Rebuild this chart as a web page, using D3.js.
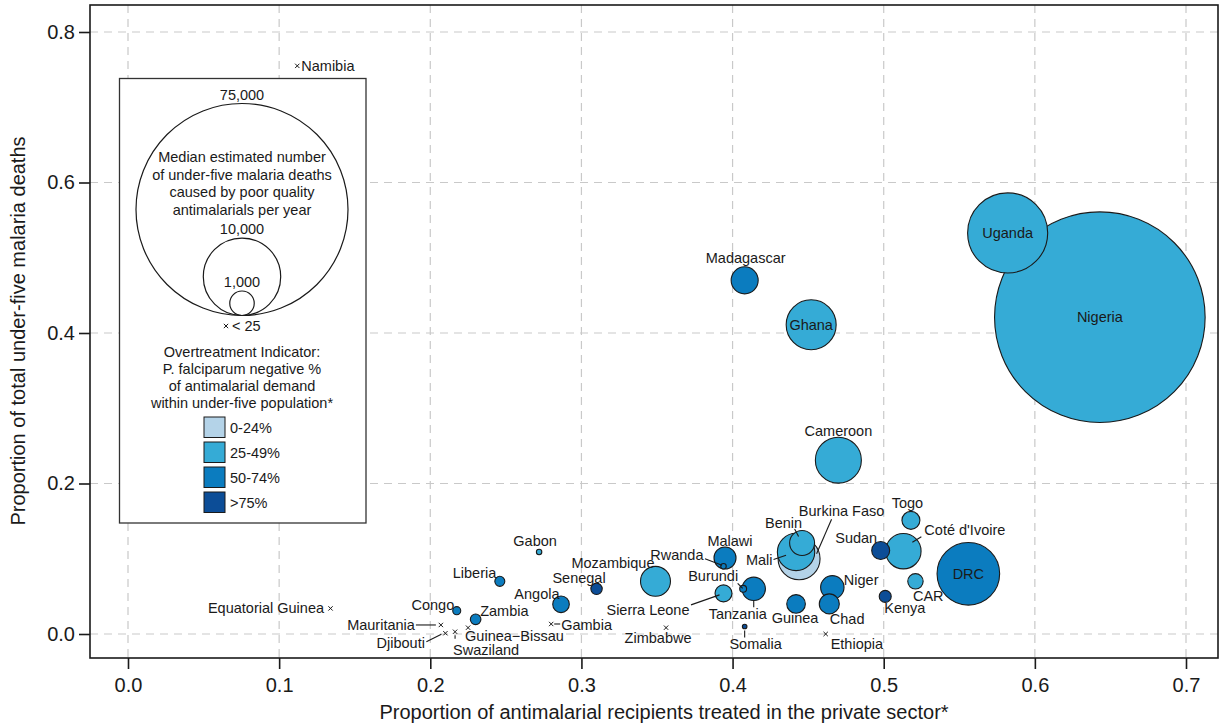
<!DOCTYPE html>
<html>
<head>
<meta charset="utf-8">
<script src="https://cdn.jsdelivr.net/npm/d3@7"></script>
<style>
  body { margin: 0; background: #ffffff; }
  svg text { font-family: "Liberation Sans", Arial, Helvetica, sans-serif; fill: #1a1a1a; }
</style>
</head>
<body>
<svg id="chart" width="1220" height="725"></svg>
<script>
// Countries with a bubble (median deaths of at least 25)
const countries = ["Nigeria", "Uganda", "Ghana", "Madagascar", "Cameroon", "DRC", "Coté d'Ivoire", "Togo",
  "Sudan", "CAR", "Kenya", "Burkina Faso", "Mali", "Benin", "Niger", "Chad", "Guinea", "Tanzania",
  "Burundi", "Malawi", "Rwanda", "Sierra Leone", "Somalia", "Mozambique", "Senegal", "Angola",
  "Liberia", "Gabon", "Zambia", "Congo"];
// Proportion of antimalarial recipients treated in the private sector
const privateShare = [0.643, 0.582, 0.452, 0.408, 0.470, 0.556, 0.513, 0.518,
  0.498, 0.521, 0.501, 0.444, 0.442, 0.446, 0.466, 0.464, 0.442, 0.414,
  0.407, 0.395, 0.394, 0.394, 0.408, 0.349, 0.310, 0.2865,
  0.246, 0.272, 0.230, 0.2175];
// Proportion of total under-five malaria deaths
const deathShare = [0.421, 0.533, 0.411, 0.470, 0.231, 0.080, 0.110, 0.151,
  0.111, 0.070, 0.050, 0.100, 0.109, 0.121, 0.062, 0.040, 0.040, 0.060,
  0.060, 0.101, 0.090, 0.054, 0.010, 0.070, 0.060, 0.0395,
  0.070, 0.109, 0.0195, 0.031];
// Median estimated under-five deaths from poor quality antimalarials per year
const medianDeaths = [74000, 10700, 4170, 1220, 3530, 6540, 2090, 540,
  540, 395, 240, 2940, 2330, 1040, 915, 670, 580, 915,
  80, 810, 50, 480, 35, 1500, 217, 460,
  167, 49, 188, 107];
// Overtreatment class: 0 = 0-24%, 1 = 25-49%, 2 = 50-74%, 3 = >75%
const overtreatClass = [1, 1, 1, 2, 1, 2, 1, 1,
  3, 1, 3, 0, 1, 1, 2, 2, 2, 2,
  2, 2, 2, 1, 3, 1, 3, 2,
  2, 1, 2, 2];

// Countries with fewer than 25 deaths, drawn as crosses
const minorCountries = ["Namibia", "Equatorial Guinea", "Mauritania", "Djibouti", "Swaziland",
  "Guinea\u2212Bissau", "Gambia", "Zimbabwe", "Ethiopia"];
const minorPrivateShare = [0.112, 0.134, 0.207, 0.210, 0.2164, 0.225, 0.280, 0.356, 0.4616];
const minorDeathShare = [0.755, 0.034, 0.012, 0.001, 0.003, 0.0084, 0.0133, 0.0084, 0.000];

const xTicks = [0, 0.1, 0.2, 0.3, 0.4, 0.5, 0.6, 0.7];
const yTicks = [0, 0.2, 0.4, 0.6, 0.8];
const classLabels = ["0-24%", "25-49%", "50-74%", ">75%"];
const classColors = ["#b4d3e8", "#35abd6", "#0b7cbf", "#0c4d97"];
const sizeLegendValues = [75000, 10000, 1000];
const sizeLegendText = ["Median estimated number", "of under-five malaria deaths",
  "caused by poor quality", "antimalarials per year"];
const colorLegendText = ["Overtreatment Indicator:", "P. falciparum negative %",
  "of antimalarial demand", "within under-five population*"];

// Label placement (pixel offsets from the mark centre)
const labelLayout = {
  "Nigeria": { dx: 0, dy: 0, anchor: "middle" },
  "Uganda": { dx: 0, dy: 0, anchor: "middle" },
  "Ghana": { dx: 0, dy: 0, anchor: "middle" },
  "DRC": { dx: 0, dy: 0, anchor: "middle" },
  "Madagascar": { dx: 1, dy: -22, anchor: "middle" },
  "Cameroon": { dx: 0, dy: -29, anchor: "middle" },
  "Togo": { dx: -3.5, dy: -17, anchor: "middle" },
  "Coté d'Ivoire": { dx: 21, dy: -21, anchor: "start", line: [9, -9, 18, -14.5] },
  "Sudan": { dx: -3.5, dy: -12.5, anchor: "end" },
  "CAR": { dx: -2.5, dy: 15, anchor: "start" },
  "Kenya": { dx: -1, dy: 12, anchor: "start" },
  "Burkina Faso": { dx: 42.5, dy: -47.5, anchor: "middle", line: [32.5, -39.5, 17.5, -5] },
  "Mali": { dx: -23.5, dy: 7.5, anchor: "end", line: [-22.5, 7.5, -10, 3.2] },
  "Benin": { dx: -18.5, dy: -20, anchor: "middle", line: [-7.5, -14, -3.5, -6.5] },
  "Niger": { dx: 11.5, dy: -7.5, anchor: "start" },
  "Chad": { dx: 0.5, dy: 15.5, anchor: "start" },
  "Guinea": { dx: -1, dy: 14, anchor: "middle" },
  "Tanzania": { dx: -16, dy: 25.5, anchor: "middle", line: [0, 12, 0, 18.5] },
  "Burundi": { dx: -5, dy: -12.5, anchor: "end", line: [-5.5, -5.5, -0.5, -0.5] },
  "Malawi": { dx: 5, dy: -17.5, anchor: "middle" },
  "Rwanda": { dx: -20, dy: -11, anchor: "end", line: [-18.5, -7.5, -1.5, -1] },
  "Sierra Leone": { dx: -34, dy: 16.5, anchor: "end", line: [-32.5, 11.5, -4, 1.5] },
  "Somalia": { dx: 11, dy: 17.5, anchor: "middle", line: [0, 4, 0, 11] },
  "Mozambique": { dx: -42.5, dy: -18.5, anchor: "middle" },
  "Senegal": { dx: -17.5, dy: -10.5, anchor: "middle" },
  "Angola": { dx: -1.5, dy: -10.5, anchor: "end" },
  "Liberia": { dx: -3.5, dy: -8.5, anchor: "end" },
  "Gabon": { dx: -4, dy: -11, anchor: "middle" },
  "Zambia": { dx: 4.5, dy: -8.5, anchor: "start" },
  "Congo": { dx: -2.5, dy: -5.5, anchor: "end" },
  "Namibia": { dx: 4, dy: 0.5, anchor: "start" },
  "Equatorial Guinea": { dx: -6.5, dy: 0, anchor: "end" },
  "Mauritania": { dx: -26, dy: -0.5, anchor: "end", line: [-25, 0, -5, 0] },
  "Djibouti": { dx: -20.5, dy: 10, anchor: "end", line: [-19, 8.5, -4, 1] },
  "Swaziland": { dx: -2, dy: 18, anchor: "start", line: [0, 3.5, 0, 7] },
  "Guinea\u2212Bissau": { dx: -3, dy: 8, anchor: "start" },
  "Gambia": { dx: 10, dy: 1, anchor: "start", line: [3, 0, 9, 0] },
  "Zimbabwe": { dx: -8, dy: 10.5, anchor: "middle" },
  "Ethiopia": { dx: 5, dy: 10, anchor: "start" }
};

const svg = d3.select("#chart");
const frame = { left: 90, top: 5, right: 1218, bottom: 658 };

const x = d3.scaleLinear().domain([0, 0.7]).range([128, 1186]);
const y = d3.scaleLinear().domain([0, 0.8]).range([634, 32]);
const r = d3.scaleSqrt().domain([0, 75000]).range([0, 106]);

// Dashed grid
const grid = svg.append("g").attr("stroke", "#c9c9c9").attr("stroke-width", 1.2)
  .attr("stroke-dasharray", "8,6");
grid.selectAll("line.gx").data(xTicks).join("line")
  .attr("x1", d => x(d)).attr("x2", d => x(d))
  .attr("y1", frame.top).attr("y2", frame.bottom);
grid.selectAll("line.gy").data(yTicks).join("line")
  .attr("y1", d => y(d)).attr("y2", d => y(d))
  .attr("x1", frame.left).attr("x2", frame.right);

// Axes
function styleAxis(g) {
  g.attr("font-size", null).attr("font-family", null);
  g.select(".domain").remove();
  g.selectAll(".tick line").attr("stroke", "#1a1a1a").attr("stroke-width", 1.6);
  g.selectAll(".tick text").attr("font-size", 20).attr("fill", "#1a1a1a");
}
svg.append("g").attr("transform", `translate(${frame.left},0)`)
  .call(d3.axisLeft(y).tickValues(yTicks).tickFormat(d3.format(".1f")).tickSize(11).tickPadding(4))
  .call(styleAxis);
svg.append("g").attr("transform", `translate(0,${frame.bottom})`)
  .call(d3.axisBottom(x).tickValues(xTicks).tickFormat(d3.format(".1f")).tickSize(11).tickPadding(9))
  .call(styleAxis);

// Axis titles
svg.append("text").attr("x", 664).attr("y", 719).attr("text-anchor", "middle")
  .attr("font-size", 20).text("Proportion of antimalarial recipients treated in the private sector*");
svg.append("text").attr("transform", "translate(25,331) rotate(-90)").attr("text-anchor", "middle")
  .attr("font-size", 20).text("Proportion of total under-five malaria deaths");

// Legend box
const lg = svg.append("g");
lg.append("rect").attr("x", 119.5).attr("y", 78.5).attr("width", 246.5).attr("height", 444.5)
  .attr("fill", "#ffffff").attr("stroke", "#333333").attr("stroke-width", 1.3);

const legendCx = 242, legendBase = 315.5;
lg.selectAll("circle.size").data(sizeLegendValues).join("circle")
  .attr("cx", legendCx).attr("cy", d => legendBase - r(d)).attr("r", d => r(d))
  .attr("fill", "none").attr("stroke", "#1a1a1a").attr("stroke-width", 1.2);
lg.selectAll("text.sizeval").data(sizeLegendValues).join("text")
  .attr("x", legendCx).attr("y", d => legendBase - 2 * r(d) - 9)
  .attr("dy", "0.35em").attr("text-anchor", "middle").attr("font-size", 14.5)
  .text(d => d3.format(",")(d));
lg.selectAll("text.sizetitle").data(sizeLegendText).join("text")
  .attr("x", legendCx).attr("y", (d, i) => 157 + i * 17.5)
  .attr("dy", "0.35em").attr("text-anchor", "middle").attr("font-size", 14.5).text(d => d);
lg.append("path").attr("d", d3.symbol(d3.symbolX, 14)())
  .attr("transform", "translate(226,326)").attr("stroke", "#1a1a1a").attr("stroke-width", 1);
lg.append("text").attr("x", 232).attr("y", 325.5).attr("dy", "0.35em")
  .attr("font-size", 14.5).text("< 25");

lg.selectAll("text.colortitle").data(colorLegendText).join("text")
  .attr("x", legendCx).attr("y", (d, i) => 352 + i * 17)
  .attr("dy", "0.35em").attr("text-anchor", "middle").attr("font-size", 14.5).text(d => d);
lg.selectAll("rect.swatch").data(classLabels).join("rect")
  .attr("x", 204).attr("y", (d, i) => 417 + i * 25).attr("width", 21).attr("height", 20.5)
  .attr("fill", (d, i) => classColors[i]).attr("stroke", "#1a1a1a").attr("stroke-width", 1);
lg.selectAll("text.swatchlabel").data(classLabels).join("text")
  .attr("x", 230).attr("y", (d, i) => 427.5 + i * 25).attr("dy", "0.35em")
  .attr("font-size", 14.5).text(d => d);

// Bubbles, largest first so smaller ones stay visible
const bubbles = countries.map((name, i) => ({
  name, px: privateShare[i], py: deathShare[i], deaths: medianDeaths[i], cls: overtreatClass[i]
})).sort((a, b) => b.deaths - a.deaths);

svg.append("g").selectAll("circle").data(bubbles).join("circle")
  .attr("cx", d => x(d.px)).attr("cy", d => y(d.py)).attr("r", d => r(d.deaths))
  .attr("fill", d => classColors[d.cls]).attr("stroke", "#1a1a1a").attr("stroke-width", 1.1);

// Crosses for countries below 25 deaths
const minor = minorCountries.map((name, i) => ({ name, px: minorPrivateShare[i], py: minorDeathShare[i] }));
svg.append("g").selectAll("path").data(minor).join("path")
  .attr("d", d3.symbol(d3.symbolX, 14)())
  .attr("transform", d => `translate(${x(d.px)},${y(d.py)})`)
  .attr("stroke", "#1a1a1a").attr("stroke-width", 1);

// Labels and leader lines
const labelled = bubbles.concat(minor);
const lab = svg.append("g");
lab.selectAll("line").data(labelled.filter(d => labelLayout[d.name].line)).join("line")
  .attr("x1", d => x(d.px) + labelLayout[d.name].line[0])
  .attr("y1", d => y(d.py) + labelLayout[d.name].line[1])
  .attr("x2", d => x(d.px) + labelLayout[d.name].line[2])
  .attr("y2", d => y(d.py) + labelLayout[d.name].line[3])
  .attr("stroke", "#1a1a1a").attr("stroke-width", 1.1);
lab.selectAll("text").data(labelled).join("text")
  .attr("x", d => x(d.px) + labelLayout[d.name].dx)
  .attr("y", d => y(d.py) + labelLayout[d.name].dy)
  .attr("dy", "0.35em").attr("text-anchor", d => labelLayout[d.name].anchor)
  .attr("font-size", 14.5).text(d => d.name);

// Plot frame
svg.append("rect").attr("x", frame.left).attr("y", frame.top)
  .attr("width", frame.right - frame.left).attr("height", frame.bottom - frame.top)
  .attr("fill", "none").attr("stroke", "#1a1a1a").attr("stroke-width", 1.6);
</script>
</body>
</html>
